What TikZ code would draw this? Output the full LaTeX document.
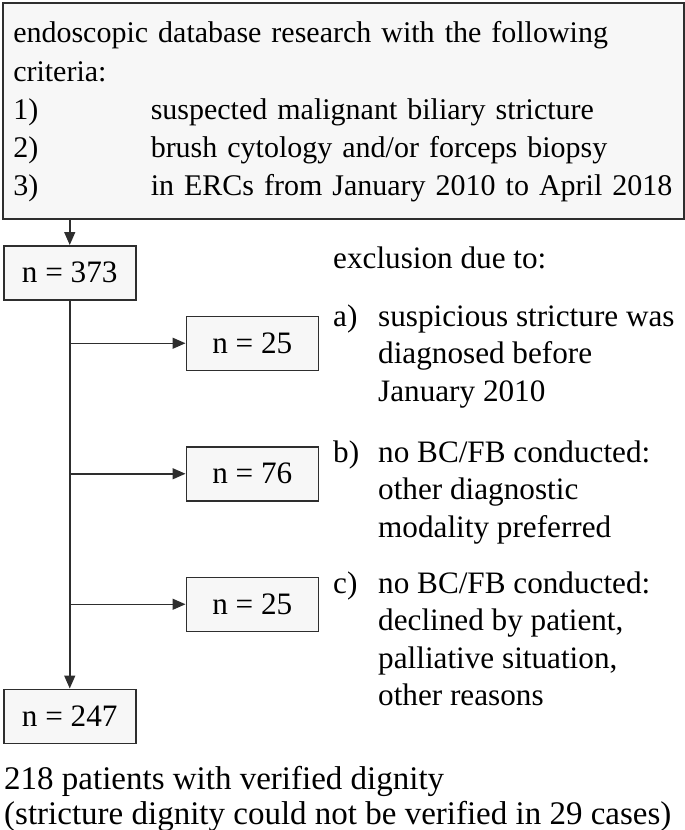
\documentclass[tikz,border=0pt]{standalone}
\usepackage{fontspec}
\setmainfont{Liberation Serif}
\usepackage{tikz}
\usetikzlibrary{arrows.meta, positioning}
\usepackage{xcolor}
\definecolor{BoxFill}{gray}{0.97}
\definecolor{Frame}{gray}{0.18}
\tikzset{%
  criteria_block/.style={%
    rectangle,%
    draw=Frame,%
    fill=BoxFill,%
    line width=1.5pt,%
    text width=660pt,%
    minimum width=681pt,%
    minimum height=216pt,%
    inner xsep=10.5pt,%
    inner ysep=0pt,%
    font={\fontsize{30}{38.3}\selectfont},%
    align=left%
  },
  count_block/.style={%
    rectangle,%
    draw=Frame,%
    fill=BoxFill,%
    line width=1.5pt,%
    minimum width=132pt,%
    minimum height=54pt,%
    inner sep=0pt,%
    font={\fontsize{31.2}{37.5}\selectfont},%
    align=center%
  },
  flow_path/.style={%
    color=Frame,%
    line width=1.5pt,%
    line join=round%
  },
  annotate/.style={%
    inner sep=0pt,%
    font={\fontsize{31.2}{37.5}\selectfont},%
  },
  arrow/.style={-{Triangle[length=13pt, width=11pt]}},
}

\begin{document}
\begin{tikzpicture}[x=1pt, y=1pt]
    \useasboundingbox (0,0) rectangle (685,-830);

    \node [criteria_block, anchor=north west] (criteria) at (2,-2)
      {\rule{0pt}{40pt}endoscopic database research with the following\\
       criteria:\\
       \mbox{\makebox[137.5pt][l]{1)}suspected malignant biliary stricture}\\
       \mbox{\makebox[137.5pt][l]{2)}brush cytology and/or forceps biopsy}\\
       \mbox{\makebox[137.5pt][l]{3)}in ERCs from January 2010 to April 2018}%
       \rule[-22.8pt]{0pt}{22.8pt}};

    \node [count_block, anchor=north west] (total) at (3,-245) {n = 373};
    \node [count_block, below right = 15 and 49 of total] (exA) {n = 25};
    \node [count_block, below = 75 of exA] (exB) {n = 76};
    \node [count_block, below = 75 of exB] (exC) {n = 25};
    \node [count_block, below = 388 of total] (final) {n = 247};

    \node [annotate, anchor=base west] (excl) at (333,-268) {exclusion due to:};
    \node [annotate, anchor=base west] (whyA) at (333,-326)
      {\begin{tabular}[t]{@{}p{45pt}@{}l@{}}
         a) & suspicious stricture was\\
            & diagnosed before\\
            & January 2010
       \end{tabular}};
    \node [annotate, anchor=base west] (whyB) at (333,-462)
      {\begin{tabular}[t]{@{}p{45pt}@{}l@{}}
         b) & no BC/FB conducted:\\
            & other diagnostic\\
            & modality preferred
       \end{tabular}};
    \node [annotate, anchor=base west] (whyC) at (333,-593)
      {\begin{tabular}[t]{@{}p{45pt}@{}l@{}}
         c) & no BC/FB conducted:\\
            & declined by patient,\\
            & palliative situation,\\
            & other reasons
       \end{tabular}};

    \node [annotate, anchor=base west, font={\fontsize{33}{35.5}\selectfont}]
      (result) at (4,-789)
      {\begin{tabular}[t]{@{}l@{}}
         218 patients with verified dignity\\
         (stricture dignity could not be verified in 29 cases)
       \end{tabular}};

    \draw [arrow, flow_path]
      (criteria.south -| total.north) -- (total.north);
    \draw [arrow, flow_path]
      (total.south) -- (final.north);
    \draw [arrow, flow_path]
      (total.south |- exA.west) -- (exA.west);
    \draw [arrow, flow_path]
      (total.south |- exB.west) -- (exB.west);
    \draw [arrow, flow_path]
      (total.south |- exC.west) -- (exC.west);
  \end{tikzpicture}
\end{document}
